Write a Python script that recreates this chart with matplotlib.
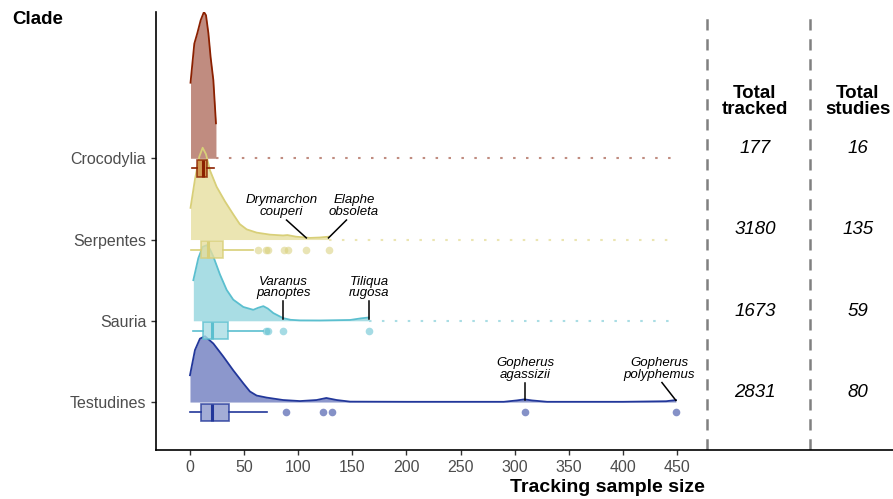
import numpy as np
import matplotlib
matplotlib.use("Agg")
import matplotlib.pyplot as plt

plt.rcParams['font.family'] = ['Liberation Sans', 'DejaVu Sans']

# clades, bottom to top
clades = ["Testudines", "Sauria", "Serpentes", "Crocodylia"]
fill_cols = ["#8C97CC", "#A9DDE4", "#EBE5B2", "#C08C80"]
line_cols = ["#22379A", "#5BBFCF", "#D8CF78", "#8B2000"]
box_cols = ["#8C97CC", "#A9DDE4", "#E6DE9E", "#C8883E"]

# half-violin outlines (x = sample size, h = height in row units)
dens_x = {
    "Crocodylia": [0.5, 4, 6.8, 9.9, 12.9, 14.8, 17, 19.1, 21.6, 24],
    "Serpentes": [0.5, 4.6, 8.6, 11.7, 14.8, 18.5, 24.6, 32.3, 40, 46, 52.4, 61.6, 74, 86,
                  90, 98, 111, 120, 128],
    "Sauria": [3.1, 7.7, 11.7, 15.4, 18.5, 21.6, 27.7, 33.9, 40, 49.3, 58.5, 63, 67.8, 72,
               77, 86, 93, 101.6, 120, 148, 158, 165],
    "Testudines": [0, 4.6, 9.2, 13.9, 21.6, 30.8, 40, 49.3, 55.4, 61.6, 70.8, 86, 101.6, 117,
                   126, 135.5, 148, 200, 290, 302, 309, 316, 330, 400, 440, 449],
}
dens_h = {
    "Crocodylia": [0.93, 1.41, 1.54, 1.70, 1.80, 1.76, 1.54, 1.24, 0.96, 0.43],
    "Serpentes": [0.39, 0.74, 1.02, 1.13, 1.05, 0.85, 0.65, 0.47, 0.31, 0.19, 0.125, 0.085,
                  0.06, 0.05, 0.055, 0.035, 0.02, 0.025, 0.035],
    "Sauria": [0.5, 0.77, 0.91, 0.93, 0.88, 0.79, 0.57, 0.38, 0.26, 0.17, 0.135, 0.16, 0.18,
               0.15, 0.095, 0.033, 0.012, 0.005, 0.004, 0.01, 0.03, 0.04],
    "Testudines": [0.33, 0.64, 0.78, 0.81, 0.72, 0.56, 0.39, 0.23, 0.13, 0.08, 0.055, 0.025,
                   0.012, 0.025, 0.05, 0.025, 0.005, 0.003, 0.003, 0.02, 0.033, 0.02, 0.003,
                   0.003, 0.01, 0.025],
}

# boxplot summaries
box_stats = {
    "Crocodylia": dict(whislo=1.6, q1=6.7, med=11.7, q3=15.4, whishi=22, fliers=[]),
    "Serpentes": dict(whislo=0.5, q1=9.9, med=16.5, q3=30.8, whishi=58,
                      fliers=[63, 70.5, 72.5, 87, 91, 107.5, 128]),
    "Sauria": dict(whislo=3, q1=11.7, med=20, q3=35.4, whishi=67.7,
                   fliers=[70.2, 72.4, 86.2, 165.4]),
    "Testudines": dict(whislo=0, q1=10.2, med=20, q3=36.3, whishi=70.9,
                       fliers=[88.7, 123.2, 131.5, 309.5, 449]),
}

total_tracked = [2831, 1673, 3180, 177]
total_studies = [80, 59, 135, 16]

# labelled species: clade, text, point x, label x, segment top x
ann_clade = ["Serpentes", "Serpentes", "Sauria", "Sauria", "Testudines", "Testudines"]
ann_text = ["Drymarchon\ncouperi", "Elaphe\nobsoleta", "Varanus\npanoptes", "Tiliqua\nrugosa",
            "Gopherus\nagassizii", "Gopherus\npolyphemus"]
ann_point = [107.5, 128, 86.2, 165.4, 309.5, 449]
ann_label = [84.7, 151.5, 86.2, 165.7, 309.5, 433.7]
ann_seg = [89.2, 144.6, 86.2, 165.4, 309.5, 436.1]

fig = plt.figure(figsize=(8.93, 4.99), dpi=100)
ax = fig.add_axes([156 / 893, 49 / 499, 1 - 156 / 893, 438 / 499])

ypos = {c: i + 1 for i, c in enumerate(clades)}

for i, c in enumerate(clades):
    y = ypos[c]
    xs = np.array(dens_x[c])
    hs = np.array(dens_h[c])
    ax.fill_between(xs, y, y + hs, color=fill_cols[i], lw=0, zorder=2 + i * 0.1)
    ax.plot(xs, y + hs, color=line_cols[i], lw=1.3, zorder=3 + i * 0.1)
    if xs[-1] < 445:
        ax.plot([xs[-1], 450], [y, y], color=fill_cols[i], lw=1.5, dashes=(1.2, 5), zorder=1)

    st = dict(box_stats[c])
    st["label"] = c
    ax.bxp([st], positions=[y - 0.125], widths=0.21, orientation="horizontal",
           showcaps=False, patch_artist=True, manage_ticks=False, zorder=4,
           boxprops=dict(facecolor=box_cols[i], edgecolor=line_cols[i], lw=1.2, alpha=0.8),
           whiskerprops=dict(color=line_cols[i], lw=1.2),
           medianprops=dict(color=line_cols[i], lw=2.2),
           flierprops=dict(marker="o", markersize=5.5, markerfacecolor=line_cols[i],
                           markeredgecolor="none", alpha=0.55))

for c, t, xp, xl, xs0 in zip(ann_clade, ann_text, ann_point, ann_label, ann_seg):
    y = ypos[c]
    ax.text(xl, y + 0.41, t, ha="center", va="center", fontsize=9.5, style="italic",
            linespacing=0.95, zorder=6)
    ax.plot([xs0, xp], [y + 0.24, y + 0.02], color="black", lw=1.1, zorder=6)

# summary columns
for xv in [477.5, 573]:
    ax.axvline(xv, color="#808080", lw=1.8, dashes=(4.5, 3.5), zorder=1)
ax.text(522, 4.70, "Total\ntracked", ha="center", va="center", fontsize=13.5,
        fontweight="bold", linespacing=0.9)
ax.text(617, 4.70, "Total\nstudies", ha="center", va="center", fontsize=13.5,
        fontweight="bold", linespacing=0.9)
for i, c in enumerate(clades):
    ax.text(522, ypos[c] + 0.12, str(total_tracked[i]), ha="center", va="center",
            fontsize=13.5, style="italic")
    ax.text(617, ypos[c] + 0.12, str(total_studies[i]), ha="center", va="center",
            fontsize=13.5, style="italic")

ax.set_xlim(-31.4, 649.6)
ax.set_ylim(0.41, 5.80)
ax.set_xticks(np.arange(0, 451, 50))
ax.set_yticks([ypos[c] for c in clades])
ax.set_yticklabels(clades)
ax.tick_params(axis="both", colors="#333333", labelcolor="#4D4D4D", labelsize=11.5,
               length=3.5, width=1)
ax.spines["top"].set_visible(False)
ax.spines["right"].set_visible(False)
ax.spines["left"].set_linewidth(1.2)
ax.spines["bottom"].set_linewidth(1.2)

ax.set_xlabel("Tracking sample size", fontsize=14, fontweight="bold")
ax.xaxis.set_label_coords((607 - 156) / (893 - 156), -0.066)
fig.text(12 / 893, 1 - 19 / 499, "Clade", fontsize=13.5, fontweight="bold", ha="left", va="center")

fig.savefig("out.png", dpi=100)
